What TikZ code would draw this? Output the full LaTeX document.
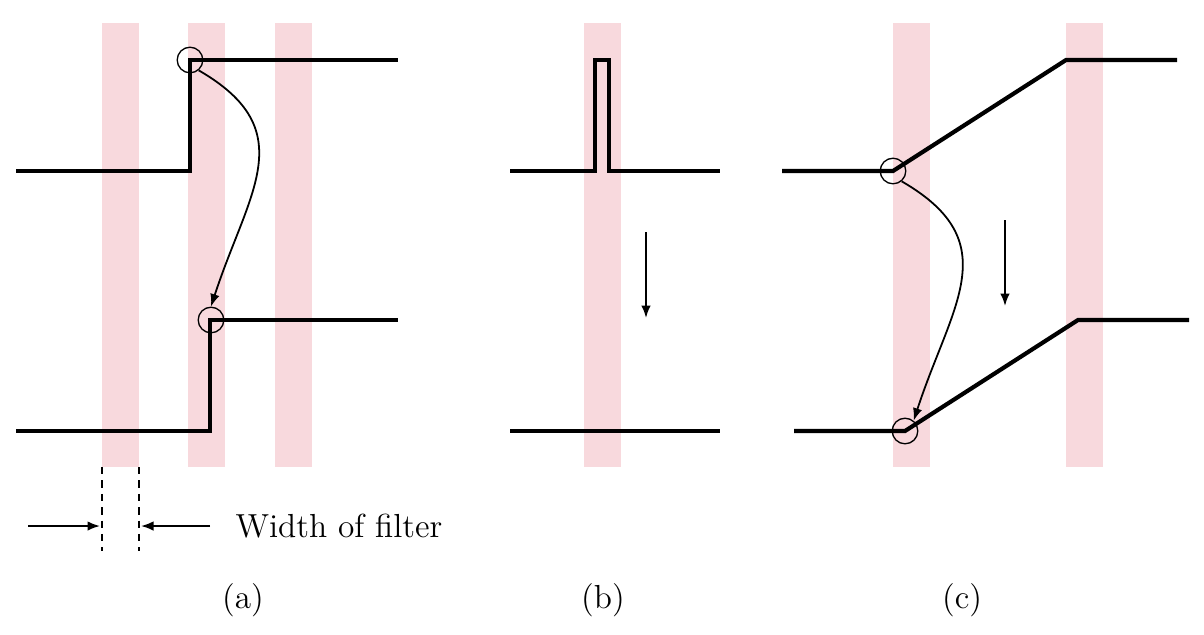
\documentclass[tikz,border=0pt]{standalone}
\usetikzlibrary{arrows.meta}

\definecolor{bandpink}{RGB}{248,217,221}

\begin{document}
\begin{tikzpicture}[x=0.336pt,y=-0.336pt,>={Latex[length=4.2pt,width=3.2pt]},
  signal/.style={line width=1.4pt},
  band/.style={fill=bandpink},
  ring/.style={circle,draw,line width=0.45pt,minimum size=8.6pt,inner sep=0pt},
  move/.style={->,line width=0.6pt},
  caption/.style={font=\fontsize{11.2pt}{13pt}\selectfont}]

  \useasboundingbox (0,0) rectangle (1204,634);

  % filter windows
  \foreach \x in {102,188,275,584,893,1066}
    \fill[band] (\x,23) rectangle +(37,444);

  % (a) step edge
  \draw[signal] (16,171) -- (190,171) -- (190,60) -- (398,60);
  \draw[signal] (16,431) -- (210,431) -- (210,320) -- (398,320);
  \node[ring] (ra1) at (190,60) {};
  \node[ring] (ra2) at (211,320) {};
  \draw[move] (ra1.-50) to[out=-30,in=72,looseness=1.3] (ra2.north);

  \coordinate (wl) at (102,467);
  \coordinate (wr) at (139,467);
  \draw[dash pattern=on 2.5pt off 2pt,line width=0.5pt] (wl) -- ++(0,84) (wr) -- ++(0,84);
  \coordinate (wl in) at (100,526);
  \coordinate (wr in) at (141,526);
  \coordinate (wl out) at (28,526);
  \coordinate (wr out) at (210,526);
  \draw[move] (wl out) -- (wl in);
  \draw[move] (wr out) -- (wr in);
  \node[caption,anchor=west,inner sep=0pt] (width) at (235,526) {Width of filter};
  \node[caption] (capa) at (243,600) {(a)};

  % (b) spike
  \draw[signal] (510,171) -- (595,171) -- (595,60) -- (609,60) -- (609,171) -- (720,171);
  \draw[signal] (510,431) -- (720,431);
  \coordinate (b top) at (646,232);
  \coordinate (b bot) at (646,318);
  \draw[move] (b top) -- (b bot);
  \node[caption] (capb) at (603,600) {(b)};

  % (c) ramp
  \draw[signal] (782,171) -- (893,171) -- (1066,60) -- (1177,60);
  \draw[signal] (794,431) -- (905,431) -- (1078,320) -- (1189,320);
  \node[ring] (rc1) at (893,171) {};
  \node[ring] (rc2) at (905,431) {};
  \draw[move] (rc1.-50) to[out=-30,in=72,looseness=1.3] (rc2.50);
  \coordinate (c top) at (1005,220);
  \coordinate (c bot) at (1005,306);
  \draw[move] (c top) -- (c bot);
  \node[caption] (capc) at (962,600) {(c)};
\end{tikzpicture}
\end{document}
